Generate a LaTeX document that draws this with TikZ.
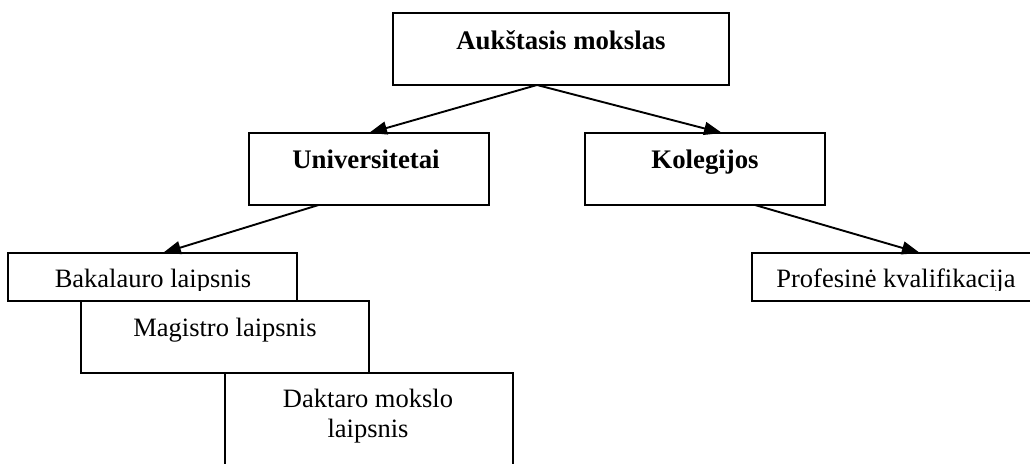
\documentclass[tikz,border=0pt]{standalone}
\usepackage{fontspec}
\setmainfont{Liberation Serif}
\usetikzlibrary{arrows.meta,calc}
\begin{document}
\begin{tikzpicture}[x=0.5pt,y=-0.5pt,
  box/.style={draw=black, line width=1.1pt, fill=white, rectangle, inner sep=0pt, outer sep=0pt},
  lbl/.style={anchor=base, inner sep=0pt, outer sep=0pt, align=center, font=\fontsize{13.25}{15}\selectfont},
  blbl/.style={lbl, font=\fontsize{13.4}{15}\selectfont\bfseries},
  arr/.style={line width=0.95pt, -{Triangle[length=9pt,width=6.5pt]}}]
\useasboundingbox (0,0) rectangle (1030,464);
\fill[white] (0,0) rectangle (1030,464);
% boxes
\node[box, minimum width=168pt, minimum height=36pt] (A) at (561,49) {};
\node[box, minimum width=120pt, minimum height=36pt] (U) at (369,169) {};
\node[box, minimum width=120pt, minimum height=36pt] (K) at (705,169) {};
\node[box, minimum width=144.5pt, minimum height=24pt] (B) at (152.5,277) {};
\node[box, minimum width=144pt, minimum height=36pt] (M) at (225,337) {};
\node[box, minimum width=144pt, minimum height=54pt] (D) at (369,427) {};
\node[box, minimum width=144pt, minimum height=24pt] (P) at (896,277) {};
% labels
\node[blbl] (At) at (561,50) {Aukštasis mokslas};
\node[blbl] (Ut) at (366,169) {Universitetai};
\node[blbl] (Kt) at (705,169) {Kolegijos};
\begin{scope}
  \clip (0,0) rectangle (1030,291);
  \node[lbl] (Bt) at (153,288) {Bakalauro laipsnis};
  \node[lbl] (Pt) at (896,288) {Profesinė kvalifikacija};
\end{scope}
\node[lbl] (Mt) at (225,337) {Magistro laipsnis};
\node[lbl] (Dt) at (368,438) {Daktaro mokslo\\laipsnis};
% connectors
\draw[arr] ($(A.south west)!0.4286!(A.south east)$) -- (U.north);
\draw[arr] ($(A.south west)!0.4286!(A.south east)$) -- ($(K.north west)!0.571!(K.north east)$);
\draw[arr] ($(U.south west)!0.29!(U.south east)$) -- ($(B.north west)!0.536!(B.north east)$);
\draw[arr] ($(K.south west)!0.708!(K.south east)$) -- ($(P.north west)!0.583!(P.north east)$);
\end{tikzpicture}
\end{document}
